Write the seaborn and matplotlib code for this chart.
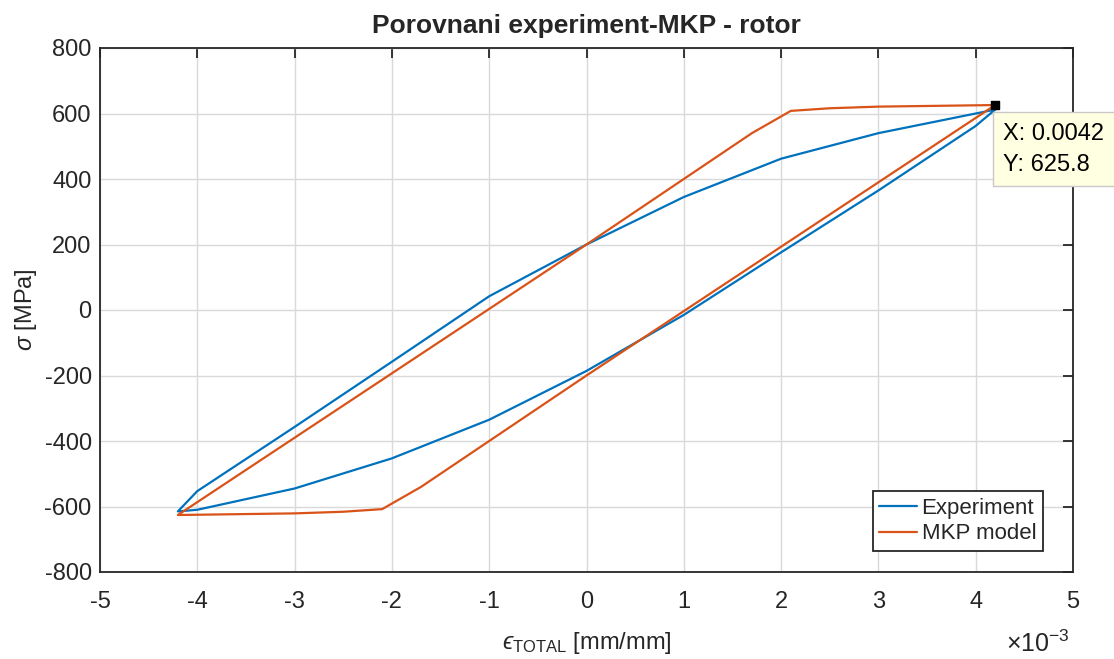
import matplotlib
matplotlib.use("Agg")
import matplotlib.pyplot as plt
import seaborn as sns
import pandas as pd

# ---- data (strain in units of 1e-3 mm/mm, stress in MPa) ----
exp_strain = [4.2, 3.0, 2.0, 1.0, 0.0, -1.0, -2.0, -3.0, -4.0, -4.2,
              -4.0, -3.0, -2.0, -1.0, 0.0, 1.0, 2.0, 3.0, 4.0, 4.2]
exp_stress = [612, 540, 462, 345, 200, 42, -158, -357, -553, -615,
              -610, -545, -453, -335, -186, -15, 176, 365, 562, 612]

mkp_strain = [4.2, 3.0, 2.5, 2.1, 1.7, 0.0, -4.2,
              -3.0, -2.5, -2.1, -1.7, 0.0, 4.2]
mkp_stress = [625.8, 621, 616, 608, 540, 200, -626,
              -621, -616, -608, -540, -200, 625.8]

series_names = ["Experiment", "MKP model"]
series_colors = ["#0072BD", "#D95319"]
x_ticks = [-5, -4, -3, -2, -1, 0, 1, 2, 3, 4, 5]
y_ticks = [-800, -600, -400, -200, 0, 200, 400, 600, 800]
tip_x, tip_y = 4.2, 625.8

df = pd.DataFrame({
    "strain": exp_strain + mkp_strain,
    "stress": exp_stress + mkp_stress,
    "series": [series_names[0]] * len(exp_strain) + [series_names[1]] * len(mkp_strain),
})

sns.set_style("white")
plt.rcParams["font.family"] = ["Liberation Sans", "DejaVu Sans"]
plt.rcParams["mathtext.fontset"] = "custom"
plt.rcParams["mathtext.rm"] = "Liberation Sans"
plt.rcParams["mathtext.it"] = "Liberation Sans:italic"
plt.rcParams["mathtext.bf"] = "Liberation Sans:bold"

fig = plt.figure(figsize=(11.14, 6.59), dpi=100)
ax = fig.add_axes([100 / 1114, 1 - 572 / 659, 973 / 1114, 524 / 659])

sns.lineplot(data=df, x="strain", y="stress", hue="series", sort=False,
             estimator=None, palette=dict(zip(series_names, series_colors)),
             linewidth=1.6, ax=ax)

ax.set_xlim(-5, 5)
ax.set_ylim(-800, 800)
ax.set_xticks(x_ticks)
ax.set_yticks(y_ticks)
ax.set_xticklabels([str(v) for v in x_ticks])
ax.set_yticklabels([str(v) for v in y_ticks])

ax.grid(True, color="#d9d9d9", linewidth=1.0)
ax.set_axisbelow(True)
for s in ax.spines.values():
    s.set_visible(True)
    s.set_color("#262626")
    s.set_linewidth(1.3)
ax.tick_params(axis="both", which="major", direction="in", length=7, width=1.3,
               color="#262626", labelcolor="#262626", labelsize=17,
               top=True, right=True)
ax.tick_params(axis="x", pad=14)
ax.tick_params(axis="y", pad=6)

ax.set_title("Porovnani experiment-MKP - rotor", fontsize=19, fontweight="bold", pad=11)
ax.set_xlabel("$\u03f5_{\\mathregular{TOTAL}}$ [mm/mm]", fontsize=17, color="#262626", labelpad=12)
ax.set_ylabel(r"$\sigma$ [MPa]", fontsize=17, color="#262626", labelpad=4)

fig.text(1070 / 1114, 1 - 652 / 659, r"$\times\mathregular{10^{-3}}$", fontsize=18,
         color="#262626", ha="right", va="baseline")

leg = ax.legend(loc="lower right", bbox_to_anchor=(0.969, 0.04), borderaxespad=0,
                fontsize=16, frameon=True, fancybox=False, framealpha=1,
                edgecolor="#262626", handlelength=1.7, handletextpad=0.2,
                labelspacing=0.2, borderpad=0.3)
leg.get_frame().set_linewidth(1.3)
for line in leg.get_lines():
    line.set_linewidth(1.6)

# data tip
ax.scatter([tip_x], [tip_y], marker="s", s=40, color="black", zorder=6, clip_on=False)
ax.annotate(f"X: {tip_x / 1000:.4f}\nY: {tip_y:.1f}", xy=(tip_x, tip_y),
            xytext=(6, -13), textcoords="offset points", ha="left", va="top",
            fontsize=17, color="black", linespacing=1.5, annotation_clip=False,
            bbox=dict(boxstyle="square,pad=0.45", fc="#ffffe1", ec="#c8c8c8", lw=1.0),
            zorder=7)

fig.savefig("out.png", dpi=100, facecolor="white")
